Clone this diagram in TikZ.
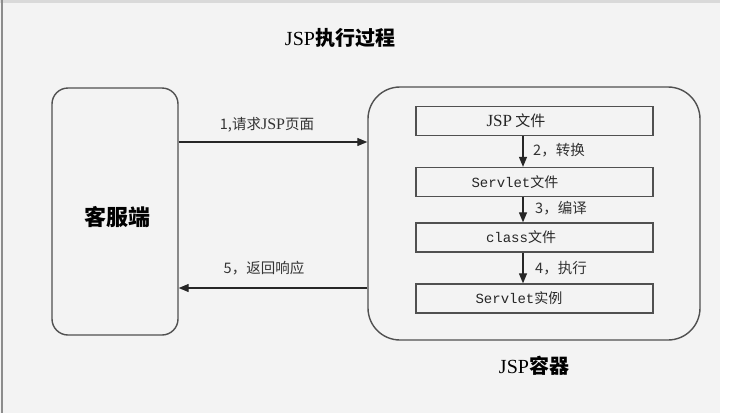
\documentclass[tikz,border=0pt]{standalone}
\usepackage{fontspec}
\setmainfont{Liberation Serif}
\newfontfamily\cjk{Noto Sans CJK SC}
\newfontfamily\mono{Liberation Mono}
\usetikzlibrary{arrows.meta}
\definecolor{bg}{HTML}{F3F3F3}
\definecolor{ln}{HTML}{505050}
\begin{document}
\begin{tikzpicture}[x=1pt,y=-1pt,
  box/.style={draw=ln,line width=1.4pt,inner sep=0pt},
  inbox/.style={draw=ln,line width=1.3pt,minimum width=237pt,minimum height=29pt,inner sep=0pt},
  intext/.style={inner sep=0pt,text=black!85,font=\fontsize{14}{14}\selectfont},
  arr/.style={draw=black!85,line width=1.2pt,-{Triangle[length=10pt,width=8pt]}},
  lbl/.style={font=\cjk\fontsize{14.5}{14.5}\selectfont,text=black!80,inner sep=0pt}]
\fill[bg] (0,0) rectangle (729,413);
\fill[white] (720,0) rectangle (729,413);
\fill[black!15] (0,0) rectangle (720,3);
\fill[black!45] (1,0) rectangle (3,413);
\useasboundingbox (0,0) rectangle (729,413);

\node[font=\fontsize{20}{20}\selectfont] (title) at (340,38) {JSP{\cjk\bfseries 执行过程}};

\node[box,rounded corners=16pt,minimum width=126pt,minimum height=247pt] (client) at (115,211.5) {};
\node[font=\cjk\bfseries\fontsize{22}{22}\selectfont] (clabel) at (117,217) {客服端};

\node[box,rounded corners=32pt,minimum width=332pt,minimum height=253pt] (cont) at (534,213.5) {};
\node[font=\fontsize{20}{20}\selectfont] (contlabel) at (534,366) {JSP{\cjk\bfseries 容器}};

\node[inbox] (b1) at (534.5,121) {};
\node[inbox] (b2) at (534.5,182) {};
\node[inbox] (b3) at (534.5,237.5) {};
\node[inbox] (b4) at (534.5,298.5) {};
\node[intext,font=\fontsize{17}{17}\selectfont] (t1) at (516,121) {JSP{\cjk\fontsize{15}{15}\selectfont\ 文件}};
\node[intext] (t2) at (515,182) {{\mono Servlet}{\cjk 文件}};
\node[intext] (t3) at (521,237.5) {{\mono class}{\cjk 文件}};
\node[intext] (t4) at (519,298.5) {{\mono Servlet}{\cjk 实例}};

\coordinate (ax) at (523,0);
\draw[arr] (b1.south -| ax) -- (b2.north -| ax);
\draw[arr] (b2.south -| ax) -- (b3.north -| ax);
\draw[arr] (b3.south -| ax) -- (b4.north -| ax);
\node[lbl,anchor=west] (l2) at (533,150) {2，转换};
\node[lbl,anchor=west] (l3) at (535,208) {3，编译};
\node[lbl,anchor=west] (l4) at (535,268) {4，执行};

\coordinate (y1) at (0,142);
\coordinate (y5) at (0,288);
\draw[arr] (client.east |- y1) -- (cont.west |- y1);
\draw[arr] (cont.west |- y5) -- (client.east |- y5);
\node[lbl] (l1) at (267,125) {1,请求{\rmfamily\fontsize{16}{16}\selectfont JSP}页面};
\node[lbl] (l5) at (264,268) {5，返回响应};
\end{tikzpicture}
\end{document}
